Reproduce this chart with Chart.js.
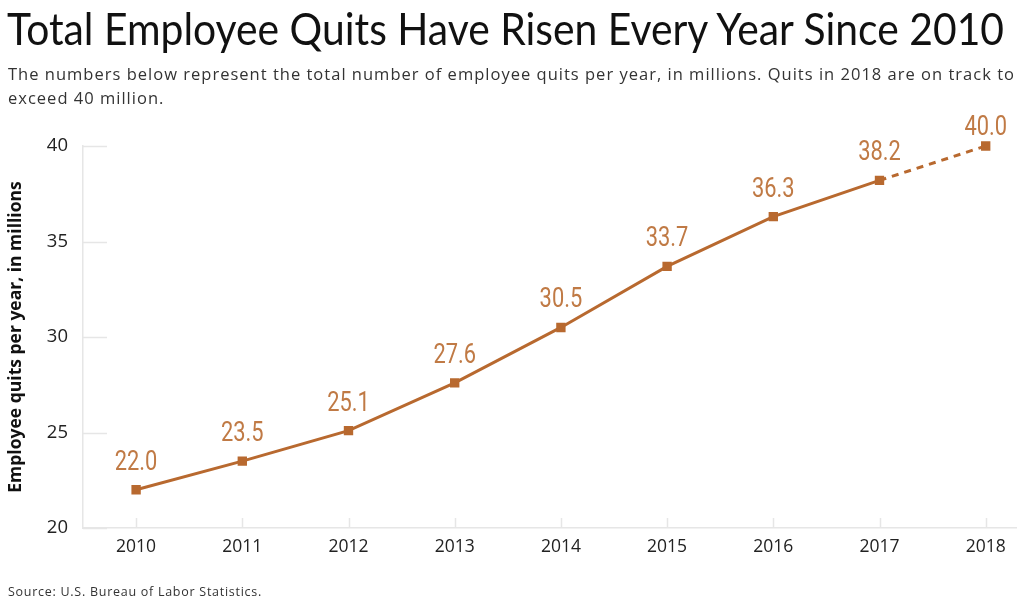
<!DOCTYPE html>
<html><head><meta charset="utf-8">
<script src="https://cdn.jsdelivr.net/npm/chart.js@4/dist/chart.umd.min.js"></script>
<style>
html,body{margin:0;padding:0;background:#fff;width:1024px;height:607px;overflow:hidden;}
#wrap{position:relative;width:1024px;height:607px;}
.t{position:absolute;white-space:nowrap;}
#title{left:7px;top:2px;font-family:Lato,sans-serif;font-size:44px;font-weight:400;color:#111;transform-origin:0 0;}
#sub1,#sub2{left:8px;font-family:"Open Sans",sans-serif;font-size:16.5px;color:#333;}
#sub1{top:62px;}
#sub2{top:86px;}
#src{left:8px;top:583px;font-family:"Open Sans",sans-serif;font-size:12.5px;color:#333;}
canvas{position:absolute;left:0;top:0;}
</style></head>
<body><div id="wrap">
<canvas id="c" width="1024" height="607"></canvas>
<div class="t" id="title">Total Employee Quits Have Risen Every Year Since 2010</div>
<div class="t" id="sub1">The numbers below represent the total number of employee quits per year, in millions. Quits in 2018 are on track to</div>
<div class="t" id="sub2">exceed 40 million.</div>
<div class="t" id="src">Source: U.S. Bureau of Labor Statistics.</div>
</div>
<script>
const years = [2010, 2011, 2012, 2013, 2014, 2015, 2016, 2017, 2018];
const quits = [22.0, 23.5, 25.1, 27.6, 30.5, 33.7, 36.3, 38.2, 40.0];
const yTicks = [20, 25, 30, 35, 40];
const yTitle = "Employee quits per year, in millions";

const ORANGE = '#b8692f';
const LABEL = '#c07a45';
const AXIS = '#e6e6e6';

// text fitting for header/footer
function fitScale(id, target) {
  const el = document.getElementById(id);
  const w = el.getBoundingClientRect().width;
  el.style.transform = 'scaleX(' + (target / w) + ')';
}
function fitSpacing(id, target) {
  const el = document.getElementById(id);
  const w = el.getBoundingClientRect().width;
  const n = el.textContent.length;
  const ls = (target - w) / n;
  el.style.letterSpacing = ls + 'px';
  return ls;
}
fitScale('title', 997);
const ls = fitSpacing('sub1', 1007);
document.getElementById('sub2').style.letterSpacing = ls + 'px';
fitSpacing('src', 254);

const innerTicks = {
  id: 'innerTicks',
  beforeDatasetsDraw(chart) {
    const {ctx, chartArea, scales:{x, y}} = chart;
    ctx.save();
    ctx.strokeStyle = AXIS; ctx.lineWidth = 1.5;
    y.ticks.forEach(t => {
      const py = Math.round(y.getPixelForValue(t.value)) + 0.5;
      ctx.beginPath(); ctx.moveTo(chartArea.left, py); ctx.lineTo(chartArea.left + 24, py); ctx.stroke();
    });
    years.forEach(v => {
      const px = Math.round(x.getPixelForValue(v)) + 0.5;
      ctx.beginPath(); ctx.moveTo(px, chartArea.bottom); ctx.lineTo(px, chartArea.bottom - 10); ctx.stroke();
    });
    ctx.restore();
  }
};
const valueLabels = {
  id: 'valueLabels',
  afterDatasetsDraw(chart) {
    const {ctx} = chart;
    const meta = chart.getDatasetMeta(0);
    ctx.save();
    ctx.fillStyle = LABEL;
    ctx.font = '400 28px Roboto, sans-serif';
    ctx.textAlign = 'center'; ctx.textBaseline = 'middle';
    meta.data.forEach((pt, i) => {
      const off = i === meta.data.length - 1 ? 18 : 27;
      ctx.save();
      ctx.translate(pt.x, pt.y - off);
      ctx.scale(0.78, 1);
      ctx.fillText(quits[i].toFixed(1), 0, 0);
      ctx.restore();
    });
    ctx.restore();
  }
};

new Chart(document.getElementById('c'), {
  type: 'line',
  data: {
    datasets: [{
      data: years.map((yr, i) => ({x: yr, y: quits[i]})),
      borderColor: ORANGE,
      backgroundColor: ORANGE,
      borderWidth: 3,
      pointStyle: 'rect',
      pointRadius: 4.5,
      pointHoverRadius: 4.5,
      tension: 0,
      clip: false,
      segment: {
        borderDash: ctx => ctx.p1DataIndex === years.length - 1 ? [7, 6] : undefined
      }
    }]
  },
  options: {
    responsive: false,
    animation: false,
    events: [],
    layout: {padding: {top: 146, right: 0, bottom: 39, left: 0}},
    plugins: {legend: {display: false}, tooltip: {enabled: false}},
    scales: {
      x: {
        type: 'linear',
        min: 2009.5,
        max: 2018.29,
        afterBuildTicks: s => { s.ticks = years.map(v => ({value: v})); },
        ticks: {
          callback: v => String(v),
          color: '#222',
          font: {family: '"Open Sans", sans-serif', size: 17.5},
          padding: 9,
          autoSkip: false,
          maxRotation: 0
        },
        grid: {display: false, drawTicks: false},
        border: {display: true, color: AXIS, width: 1.5},
        afterFit: s => { s.height = 40; }
      },
      y: {
        min: 20,
        max: 40,
        afterBuildTicks: s => { s.ticks = yTicks.map(v => ({value: v})); },
        ticks: {
          color: '#222',
          font: {family: '"Open Sans", sans-serif', size: 18.5},
          padding: 15
        },
        grid: {display: false, drawTicks: false},
        border: {display: true, color: AXIS, width: 1.5},
        title: {
          display: true,
          text: yTitle,
          color: '#111',
          font: {family: '"Open Sans", sans-serif', size: 17.5, weight: 'bold'},
          padding: {top: 6, bottom: 0}
        },
        afterFit: s => { s.width = 83; }
      }
    }
  },
  plugins: [innerTicks, valueLabels]
});
</script>
</body></html>
